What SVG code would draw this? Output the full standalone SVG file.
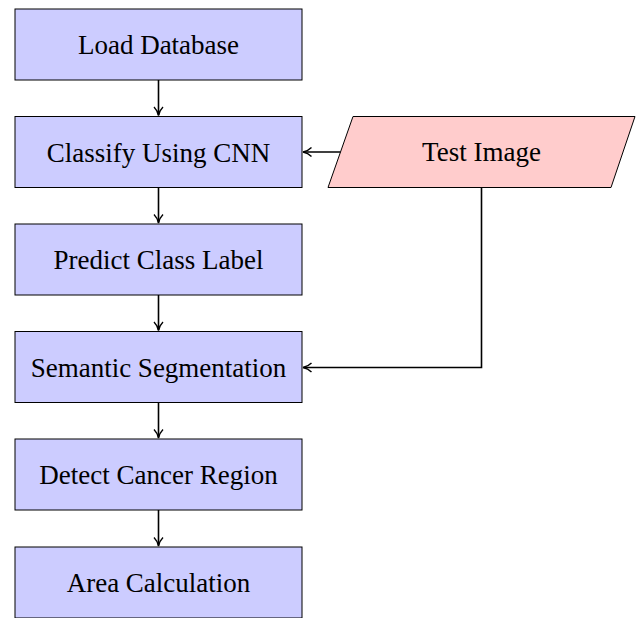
<svg xmlns="http://www.w3.org/2000/svg" width="637" height="618" viewBox="0 0 637 618">
<style>
.box{fill:#ccccff;stroke:#000;stroke-width:1}
.io{fill:#ffcccc;stroke:#000;stroke-width:1}
.edge{fill:none;stroke:#000;stroke-width:1.6}
.head{fill:none;stroke:#000;stroke-width:1.4}
</style>
<g id="n1"><rect class="box" x="15" y="9" width="287" height="71"/><text x="158.5" y="54" text-anchor="middle" font-family="Liberation Serif" font-size="27">Load Database</text></g>
<g id="n2"><rect class="box" x="15" y="116.5" width="287" height="71"/><text x="158.5" y="161.5" text-anchor="middle" font-family="Liberation Serif" font-size="27">Classify Using CNN</text></g>
<g id="n3"><rect class="box" x="15" y="224" width="287" height="71"/><text x="158.5" y="269" text-anchor="middle" font-family="Liberation Serif" font-size="27">Predict Class Label</text></g>
<g id="n4"><rect class="box" x="15" y="331.5" width="287" height="71"/><text x="158.5" y="376.5" text-anchor="middle" font-family="Liberation Serif" font-size="27">Semantic Segmentation</text></g>
<g id="n5"><rect class="box" x="15" y="439" width="287" height="71"/><text x="158.5" y="484" text-anchor="middle" font-family="Liberation Serif" font-size="27">Detect Cancer Region</text></g>
<g id="n6"><rect class="box" x="15" y="547" width="287" height="71"/><text x="158.5" y="592" text-anchor="middle" font-family="Liberation Serif" font-size="27">Area Calculation</text></g>
<g id="n7"><polygon class="io" points="353,116.5 635,116.5 611,187.5 328,187.5"/><text x="481.5" y="160.5" text-anchor="middle" font-family="Liberation Serif" font-size="27">Test Image</text></g>
<g id="edges">
<path class="edge" d="M158.5,80 V115"/>
<path class="head" d="M154,107 Q157.5,110.5 158.5,115.5 Q159.5,110.5 163,107"/>
<path class="edge" d="M158.5,187.5 V222.5"/>
<path class="head" d="M154,214.5 Q157.5,218 158.5,223 Q159.5,218 163,214.5"/>
<path class="edge" d="M158.5,295 V330"/>
<path class="head" d="M154,322 Q157.5,325.5 158.5,330.5 Q159.5,325.5 163,322"/>
<path class="edge" d="M158.5,402.5 V437.5"/>
<path class="head" d="M154,429.5 Q157.5,433 158.5,438 Q159.5,433 163,429.5"/>
<path class="edge" d="M158.5,510 V545.5"/>
<path class="head" d="M154,537.5 Q157.5,541 158.5,546 Q159.5,541 163,537.5"/>
<path class="edge" d="M340.5,152 H303.5"/>
<path class="head" d="M311.5,147.5 Q308,151 303,152 Q308,153 311.5,156.5"/>
<path class="edge" d="M481.5,187.5 V367.5 H303.5"/>
<path class="head" d="M311.5,363 Q308,366.5 303,367.5 Q308,368.5 311.5,372"/>
</g>
</svg>
